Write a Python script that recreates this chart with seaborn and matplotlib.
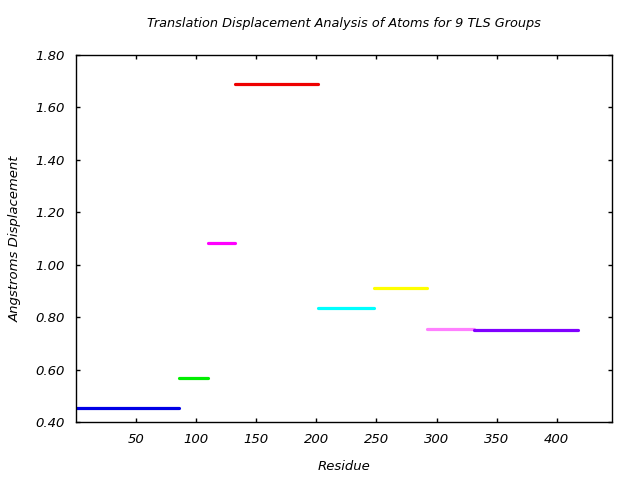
import matplotlib
matplotlib.use("Agg")
import matplotlib.pyplot as plt
import seaborn as sns
import pandas as pd

groups = ["G1", "G2", "G3", "G4", "G5", "G6", "G7", "G8"]
res_start = [1, 86, 110, 132, 201, 248, 292, 331]
res_end = [86, 110, 132, 201, 248, 292, 331, 418]
displacement = [0.453, 0.567, 1.081, 1.687, 0.834, 0.910, 0.754, 0.751]
colors = ["#0000e6", "#00ee00", "#ff00ff", "#ee0000", "#00ffff", "#ffff00", "#ff80ff", "#8000ff"]
xticks = [50, 100, 150, 200, 250, 300, 350, 400]
yticks = [0.40, 0.60, 0.80, 1.00, 1.20, 1.40, 1.60, 1.80]

rows = []
for g, s, e, v in zip(groups, res_start, res_end, displacement):
    rows.append({"group": g, "residue": s, "disp": v})
    rows.append({"group": g, "residue": e, "disp": v})
df = pd.DataFrame(rows)

sns.set_theme(style="white")
plt.rcParams["font.family"] = ["DejaVu Sans"]

fig = plt.figure(figsize=(6.4, 4.8), dpi=100)
ax = fig.add_axes([76 / 640, 1 - 422.3 / 480, (612 - 76) / 640, (422.3 - 54.5) / 480])

sns.lineplot(data=df, x="residue", y="disp", hue="group", palette=dict(zip(groups, colors)),
             estimator=None, sort=False, legend=False, linewidth=2.3, ax=ax)

ax.set_xlim(0, 446)
ax.set_ylim(0.40, 1.80)
ax.set_xticks(xticks)
ax.set_xticklabels([str(t) for t in xticks], fontstyle="italic", fontsize=9.5)
ax.set_yticks(yticks)
ax.set_yticklabels([f"{t:.2f}" for t in yticks], fontstyle="italic", fontsize=9.5)
ax.tick_params(direction="in", length=3.2, width=1, color="black", top=True, right=True,
               bottom=True, left=True, pad=8, labelcolor="black")
for sp in ax.spines.values():
    sp.set_color("black")
    sp.set_linewidth(1)
    sp.set_visible(True)

ax.set_xlabel("Residue", fontstyle="italic", fontsize=9.5, labelpad=10, color="black")
ax.set_ylabel("Angstroms Displacement", fontstyle="italic", fontsize=9.5, labelpad=10, color="black")
ax.set_title("Translation Displacement Analysis of Atoms for 9 TLS Groups",
             fontstyle="italic", fontsize=9.3, pad=20, color="black")

fig.savefig("out.png", dpi=100)
